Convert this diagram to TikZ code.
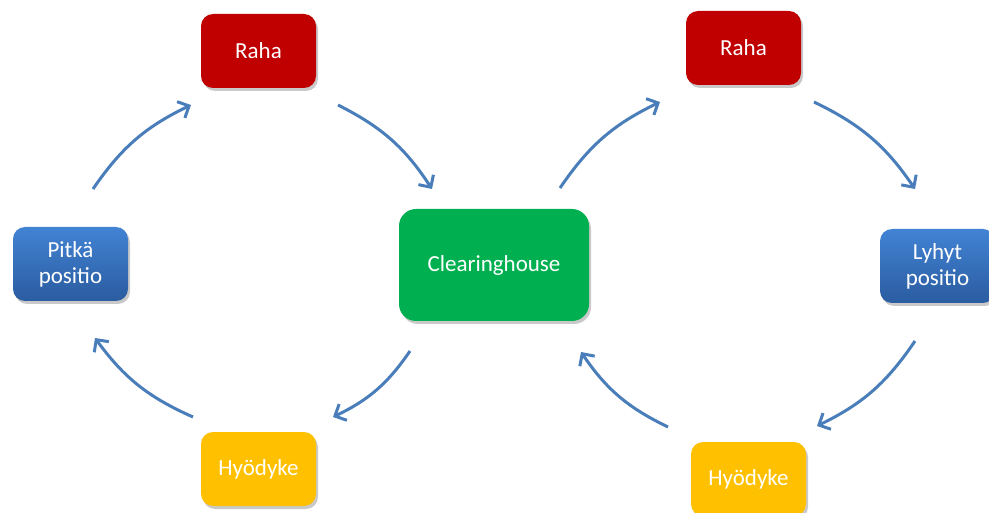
\documentclass[tikz,border=0pt]{standalone}
\usepackage{fontspec}
\setmainfont{Carlito}
\usetikzlibrary{shadows,arrows.meta}

\definecolor{rahared}{RGB}{192,0,0}
\definecolor{chgreen}{RGB}{0,176,80}
\definecolor{hyoyellow}{RGB}{255,192,0}
\definecolor{postop}{RGB}{66,131,212}
\definecolor{posbot}{RGB}{42,92,160}
\definecolor{arrowblue}{RGB}{74,126,187}

\tikzset{
    box/.style={minimum width=115pt, minimum height=74pt, rounded corners=12pt,
        text=white, align=center, font=\fontsize{23}{26}\selectfont,
        drop shadow={shadow xshift=2pt, shadow yshift=-3pt, opacity=0.3, fill=black!70}},
    raha/.style={box, fill=rahared},
    hyodyke/.style={box, fill=hyoyellow},
    positio/.style={box, top color=postop, bottom color=posbot},
    flow/.style={draw=arrowblue, line width=3pt, -{Straight Barb[length=9pt, width=18pt]}, bend left=15}
}

\begin{document}
\begin{tikzpicture}[x=1pt, y=1pt]
            \useasboundingbox (0,0) rectangle (989,-513);

            % Nodes
            \node[raha] (rahaL) at (258.5,-51) {Raha};
            \node[positio] (pitka) at (70.5,-264) {Pitkä\\positio};
            \node[box, fill=chgreen, minimum width=190pt, minimum height=112pt, rounded corners=17pt] (clear) at (494,-265) {Clearinghouse};
            \node[hyodyke] (hyoL) at (258.5,-469) {Hyödyke};
            \node[raha] (rahaR) at (743.5,-48) {Raha};
            \node[positio] (lyhyt) at (937.5,-266) {Lyhyt\\positio};
            \node[hyodyke] (hyoR) at (748.5,-479) {Hyödyke};

            % Arrow ends
            \coordinate (a1s) at (93,-189);   \coordinate (a1e) at (191,-105);
            \coordinate (a2s) at (338,-105);  \coordinate (a2e) at (432,-189);
            \coordinate (a3s) at (410,-351);  \coordinate (a3e) at (333,-417);
            \coordinate (a4s) at (193,-417);  \coordinate (a4e) at (95,-338);
            \coordinate (a5s) at (560,-188);  \coordinate (a5e) at (660,-102);
            \coordinate (a6s) at (814,-102);  \coordinate (a6e) at (915,-189);
            \coordinate (a7s) at (915,-341);  \coordinate (a7e) at (817,-426);
            \coordinate (a8s) at (668,-427);  \coordinate (a8e) at (581,-352);

            % Arrows
            \draw[flow] (a1s) to (a1e);
            \draw[flow] (a2s) to (a2e);
            \draw[flow] (a3s) to (a3e);
            \draw[flow] (a4s) to (a4e);
            \draw[flow] (a5s) to (a5e);
            \draw[flow] (a6s) to (a6e);
            \draw[flow] (a7s) to (a7e);
            \draw[flow] (a8s) to (a8e);

        \end{tikzpicture}
\end{document}
